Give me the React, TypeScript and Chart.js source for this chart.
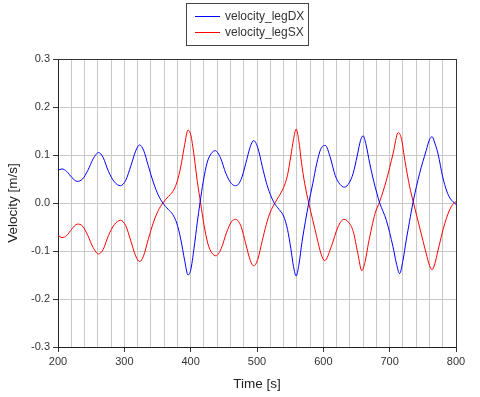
import React, { useEffect, useRef } from "react";
import { Chart, registerables } from "chart.js";

Chart.register(...registerables);

const blueTime = [200, 206, 213, 221, 229, 237, 245, 253, 261, 268, 276, 285, 294, 302, 310, 317, 323, 329, 336, 344, 351, 358, 366, 373, 379, 385, 391, 396, 400, 405, 410, 414, 419, 425, 431, 437, 445, 453, 461, 468, 476, 483, 490, 495, 501, 508, 514, 520, 526, 533, 540, 546, 551, 555, 559, 563, 568, 573, 578, 584, 590, 596, 603, 610, 618, 625, 632, 639, 645, 651, 656, 660, 664, 670, 676, 681, 685, 695, 705, 710, 715, 720, 725, 730, 735, 745, 755, 760, 764, 768, 773, 780, 786, 791, 800];
const blueVel = [0.068, 0.071, 0.066, 0.053, 0.045, 0.050, 0.068, 0.092, 0.105, 0.095, 0.066, 0.044, 0.036, 0.047, 0.078, 0.108, 0.121, 0.110, 0.078, 0.042, 0.017, 0.000, -0.013, -0.024, -0.042, -0.075, -0.120, -0.150, -0.140, -0.095, -0.040, 0.000, 0.045, 0.085, 0.103, 0.109, 0.094, 0.062, 0.041, 0.036, 0.049, 0.082, 0.118, 0.130, 0.116, 0.076, 0.043, 0.018, 0.000, -0.013, -0.027, -0.055, -0.095, -0.132, -0.152, -0.130, -0.080, -0.038, 0.000, 0.040, 0.082, 0.112, 0.120, 0.097, 0.057, 0.039, 0.033, 0.042, 0.062, 0.098, 0.130, 0.140, 0.124, 0.082, 0.045, 0.019, 0.000, -0.036, -0.091, -0.125, -0.147, -0.120, -0.077, -0.038, 0.000, 0.061, 0.109, 0.132, 0.138, 0.125, 0.102, 0.054, 0.025, 0.010, -0.003];

const redTime = [200, 206, 213, 221, 229, 237, 245, 253, 261, 268, 276, 285, 294, 302, 310, 317, 323, 329, 336, 344, 351, 358, 366, 373, 379, 385, 391, 396, 400, 405, 410, 415, 420, 426, 432, 438, 446, 454, 461, 468, 476, 483, 490, 495, 501, 508, 514, 520, 527, 533, 540, 546, 551, 555, 559, 563, 567, 572, 578, 584, 590, 597, 602, 612, 622, 631, 638, 645, 652, 658, 663, 668, 678, 685, 695, 705, 713, 718, 723, 730, 736, 745, 755, 760, 764, 768, 773, 783, 793, 800];
const redVel = [-0.067, -0.072, -0.068, -0.054, -0.044, -0.048, -0.068, -0.093, -0.106, -0.097, -0.068, -0.045, -0.036, -0.047, -0.080, -0.110, -0.122, -0.110, -0.076, -0.040, -0.016, 0.000, 0.013, 0.024, 0.042, 0.075, 0.122, 0.152, 0.143, 0.100, 0.045, 0.000, -0.045, -0.085, -0.104, -0.110, -0.095, -0.062, -0.040, -0.034, -0.049, -0.085, -0.120, -0.131, -0.118, -0.078, -0.045, -0.019, 0.000, 0.014, 0.032, 0.058, 0.098, 0.132, 0.154, 0.130, 0.085, 0.040, 0.000, -0.035, -0.070, -0.108, -0.120, -0.091, -0.050, -0.034, -0.040, -0.059, -0.105, -0.141, -0.122, -0.084, -0.022, 0.003, 0.047, 0.102, 0.147, 0.132, 0.088, 0.035, 0.000, -0.050, -0.105, -0.130, -0.139, -0.127, -0.098, -0.043, -0.007, 0.003];

const seriesNames = ["velocity_legDX", "velocity_legSX"];
const seriesColors = ["#0000ff", "#ff0000"];
const xTitle = "Time [s]";
const yTitle = "Velocity [m/s]";

const FONT = "'Liberation Sans', Arial, sans-serif";

const framePlugin = {
  id: "frameAndLegend",
  afterDraw(chart: any) {
    const ctx = chart.ctx;
    const a = chart.chartArea;
    ctx.save();
    ctx.strokeStyle = "#333333";
    ctx.lineWidth = 1;
    ctx.beginPath();
    ctx.moveTo(Math.round(a.left), Math.round(a.top) + 0.5);
    ctx.lineTo(Math.round(a.right), Math.round(a.top) + 0.5);
    ctx.moveTo(Math.round(a.right) + 0.5, Math.round(a.top));
    ctx.lineTo(Math.round(a.right) + 0.5, Math.round(a.bottom));
    ctx.stroke();

    // legend box
    ctx.strokeStyle = "#444444";
    ctx.strokeRect(186.5, 3.5, 122, 42);
    ctx.font = `12px ${FONT}`;
    ctx.textBaseline = "middle";
    ctx.textAlign = "left";
    seriesNames.forEach((name, i) => {
      const y = 16 + i * 16;
      ctx.strokeStyle = seriesColors[i];
      ctx.beginPath();
      ctx.moveTo(195, y + 0.5);
      ctx.lineTo(220, y + 0.5);
      ctx.stroke();
      ctx.fillStyle = "#333333";
      ctx.fillText(name, 225, y + 1);
    });
    ctx.restore();
  },
};

export default function App() {
  const ref = useRef<HTMLCanvasElement | null>(null);

  useEffect(() => {
    document.body.style.margin = "0";
    if (!ref.current) return;
    const chart = new Chart(ref.current, {
      type: "line",
      data: {
        datasets: [
          {
            label: seriesNames[0],
            data: blueTime.map((t, i) => ({ x: t, y: blueVel[i] })),
            borderColor: seriesColors[0],
            borderWidth: 1,
            pointRadius: 0,
            cubicInterpolationMode: "monotone",
            fill: false,
          },
          {
            label: seriesNames[1],
            data: redTime.map((t, i) => ({ x: t, y: redVel[i] })),
            borderColor: seriesColors[1],
            borderWidth: 1,
            pointRadius: 0,
            cubicInterpolationMode: "monotone",
            fill: false,
          },
        ],
      },
      options: {
        animation: false,
        responsive: false,
        devicePixelRatio: 1,
        layout: { padding: { top: 59, right: 24, left: 0, bottom: 0 } },
        plugins: {
          legend: { display: false },
          tooltip: { enabled: false },
        },
        scales: {
          x: {
            type: "linear",
            min: 200,
            max: 800,
            afterFit: (s: any) => {
              s.height = 50;
            },
            ticks: {
              stepSize: 20,
              autoSkip: false,
              maxRotation: 0,
              padding: 3,
              color: "#333333",
              font: { family: FONT, size: 11 },
              callback: (v: any) => (Math.round(v) % 100 === 0 ? String(v) : ""),
            },
            grid: {
              color: "#c8c8c8",
              tickLength: 5,
              tickColor: (c: any) =>
                c.tick && Math.round(c.tick.value) % 100 === 0 ? "#333333" : "rgba(0,0,0,0)",
            },
            border: { color: "#222222", width: 1 },
            title: {
              display: true,
              text: xTitle,
              color: "#222222",
              font: { family: FONT, size: 13.5 },
              padding: { top: 0, bottom: 5 },
            },
          },
          y: {
            min: -0.3,
            max: 0.3,
            afterFit: (s: any) => {
              s.width = 58;
            },
            ticks: {
              stepSize: 0.1,
              padding: 3,
              color: "#333333",
              font: { family: FONT, size: 11 },
              callback: (v: any) => Number(v).toFixed(1),
            },
            grid: {
              color: "#c8c8c8",
              tickLength: 5,
              tickColor: "#333333",
            },
            border: { color: "#222222", width: 1 },
            title: {
              display: true,
              text: yTitle,
              color: "#222222",
              font: { family: FONT, size: 13.5 },
              padding: { top: 5, bottom: 0 },
            },
          },
        },
      },
      plugins: [framePlugin],
    } as any);
    return () => chart.destroy();
  }, []);

  return (
    <div style={{ position: "absolute", left: 0, top: 0, width: 480, height: 397, background: "#fff" }}>
      <canvas ref={ref} width={480} height={397} />
    </div>
  );
}
